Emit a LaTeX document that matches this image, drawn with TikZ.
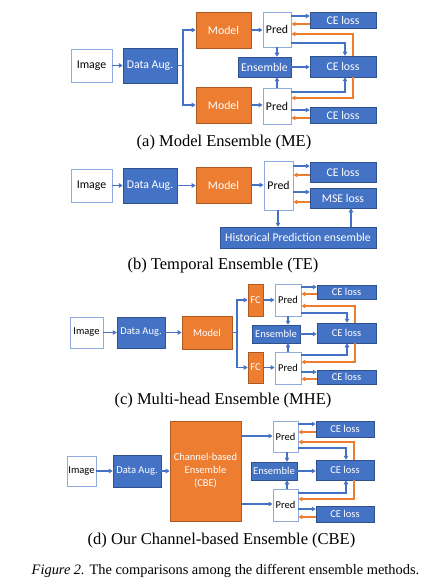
\documentclass[tikz,border=0pt]{standalone}
\usepackage{fontspec}
\setmainfont{Liberation Serif}
\newfontfamily\boxfont{Carlito}
\usetikzlibrary{arrows.meta}
\definecolor{obblue}{HTML}{4472C4}
\definecolor{obdark}{HTML}{2F528F}
\definecolor{oborder}{HTML}{8FAADC}
\definecolor{oorange}{HTML}{ED7D31}
\definecolor{odark}{HTML}{AE5A21}
\newcommand\bx[7]{\node[#2,minimum width={(#5-#3)*1pt},minimum height={(#6-#4)*1pt}] (#1) at ({(#3+#5)/2},{(#4+#6)/2}) {#7};}
\newcommand\pairarr[4]{%
  \draw[barr] (#1.east |- 0,#3) -- (#2.west |- 0,#3);
  \draw[oarr] (#2.west |- 0,#4) -- (#1.east |- 0,#4);}
\newcommand\loopup[6]{%
  \draw[barr] (#1.east |- 0,#3) -| (#2.north -| #4,0);
  \draw[oarr] (#2.north -| #5,0) |- (#1.east |- 0,#6);}
\newcommand\loopdown[6]{%
  \draw[barr] (#1.east |- 0,#3) -| (#2.south -| #4,0);
  \draw[oarr] (#2.south -| #5,0) |- (#1.east |- 0,#6);}
\begin{document}
\begin{tikzpicture}[x=1pt,y=-1pt,
  big/.style={font=\boxfont\fontsize{11.8}{13}\selectfont},
  small/.style={font=\boxfont\fontsize{10.5}{13}\selectfont},
  bbox/.style={fill=obblue,draw=obdark,line width=0.5pt,text=white,inner sep=0pt},
  wbox/.style={fill=white,draw=oborder,line width=0.9pt,text=black,inner sep=0pt},
  obox/.style={fill=oorange,draw=odark,line width=0.7pt,text=white,inner sep=0pt},
  bline/.style={draw=obblue,line width=1.2pt},
  barr/.style={bline,-{Triangle[length=4pt,width=4.5pt]}},
  oarr/.style={draw=oorange,line width=1.2pt,-{Triangle[length=4pt,width=4.5pt]}},
  capt/.style={font=\fontsize{16.5}{18}\selectfont,inner sep=0pt}
]
\useasboundingbox (0,0) rectangle (427,585);
\fill[white] (0,0) rectangle (427,585);

% ---------------- (a) ----------------
\begin{scope}[big]
\bx{imgA}{wbox}{71}{49}{112}{82}{Image}
\bx{augA}{bbox}{123}{48}{177}{83}{Data Aug.}
\bx{modA1}{obox}{196}{12}{251}{48}{Model}
\bx{modA2}{obox}{196}{87}{251}{123}{Model}
\bx{predA1}{wbox}{263}{12}{291}{47}{Pred}
\bx{predA2}{wbox}{263}{88}{291}{124}{Pred}
\bx{ensA}{bbox}{238}{57}{291}{77}{Ensemble}
\bx{ceA1}{bbox}{310}{12}{376}{28}{CE loss}
\bx{ceA2}{bbox}{310}{56}{376}{77}{CE loss}
\bx{ceA3}{bbox}{310}{107}{376}{123}{CE loss}
\end{scope}
\coordinate (brA) at (183,65.5);
\draw[barr] (imgA.east |- augA.east) -- (augA.west);
\draw[bline] (augA.east) -- (brA);
\draw[barr] (brA) |- (modA1.west);
\draw[barr] (brA) |- (modA2.west);
\draw[barr] (modA1.east) -- (predA1.west |- modA1.east);
\draw[barr] (modA2.east) -- (predA2.west |- modA2.east);
\pairarr{predA1}{ceA1}{16}{24}
\pairarr{predA2}{ceA3}{110}{118}
\loopup{predA1}{ceA2}{43}{345}{353}{34}
\loopdown{predA2}{ceA2}{92}{345}{353}{98}
\draw[barr] (predA1.south -| 277,0) -- (ensA.north -| 277,0);
\draw[barr] (predA2.north -| 277,0) -- (ensA.south -| 277,0);
\draw[barr] (ensA.east) -- (ceA2.west |- ensA.east);
\node[capt] (capA) at (224,143) {(a) Model Ensemble (ME)};

% ---------------- (b) ----------------
\begin{scope}[big]
\bx{imgB}{wbox}{71}{169}{112}{202}{Image}
\bx{augB}{bbox}{123}{168}{177}{203}{Data Aug.}
\bx{modB}{obox}{196}{167}{251}{203}{Model}
\bx{predB}{wbox}{264}{161}{293}{210}{Pred}
\bx{ceB}{bbox}{310}{162}{376}{182}{CE loss}
\bx{mseB}{bbox}{310}{188}{376}{208}{MSE loss}
\bx{histB}{bbox}{220}{227}{376}{248}{Historical Prediction ensemble}
\end{scope}
\draw[barr] (imgB.east |- augB.east) -- (augB.west);
\draw[barr] (augB.east) -- (modB.west |- augB.east);
\draw[barr] (modB.east) -- (predB.west |- modB.east);
\pairarr{predB}{ceB}{166}{175}
\pairarr{predB}{mseB}{192}{202}
\draw[barr] (predB.south -| 278,0) -- (histB.north -| 278,0);
\draw[barr] (histB.north -| 351,0) -- (mseB.south -| 351,0);
\node[capt] (capB) at (223,265.5) {(b) Temporal Ensemble (TE)};

% ---------------- (c) ----------------
\begin{scope}[small]
\bx{imgC}{wbox}{70}{317}{103}{348}{Image}
\bx{augC}{bbox}{117}{317}{165}{348}{Data Aug.}
\bx{modC}{obox}{182}{316}{232}{349}{Model}
\bx{fcC1}{obox}{248}{284}{263}{316}{FC}
\bx{fcC2}{obox}{248}{352}{263}{383}{FC}
\bx{predC1}{wbox}{275}{284}{301}{316}{Pred}
\bx{predC2}{wbox}{275}{352}{301}{384}{Pred}
\bx{ensC}{bbox}{252}{325}{300}{343}{Ensemble}
\bx{ceC1}{bbox}{317}{285}{376}{299}{CE loss}
\bx{ceC2}{bbox}{317}{323}{376}{343}{CE loss}
\bx{ceC3}{bbox}{317}{370}{376}{384}{CE loss}
\end{scope}
\coordinate (brC) at (237,332.5);
\draw[barr] (imgC.east |- augC.east) -- (augC.west);
\draw[barr] (augC.east) -- (modC.west |- augC.east);
\draw[bline] (modC.east) -- (brC);
\draw[barr] (brC) |- (fcC1.west);
\draw[barr] (brC) |- (fcC2.west);
\draw[barr] (fcC1.east) -- (predC1.west |- fcC1.east);
\draw[barr] (fcC2.east) -- (predC2.west |- fcC2.east);
\pairarr{predC1}{ceC1}{287}{294}
\pairarr{predC2}{ceC3}{372}{379}
\loopup{predC1}{ceC2}{313}{347}{355}{306}
\loopdown{predC2}{ceC2}{355}{347}{355}{362}
\draw[barr] (predC1.south -| 288,0) -- (ensC.north -| 288,0);
\draw[barr] (predC2.north -| 288,0) -- (ensC.south -| 288,0);
\draw[barr] (ensC.east) -- (ceC2.west |- ensC.east);
\node[capt] (capC) at (223,401) {(c) Multi-head Ensemble (MHE)};

% ---------------- (d) ----------------
\begin{scope}[small]
\bx{imgD}{wbox}{67}{456}{96}{486}{Image}
\bx{augD}{bbox}{113}{455}{161}{487}{Data Aug.}
\node[obox,small,align=center,minimum width=71pt,minimum height=100pt,font=\boxfont\fontsize{10.5}{13}\selectfont] (cbeD) at (205.5,471) {Channel-based\\Ensemble\\(CBE)};
\bx{predD1}{wbox}{273}{421}{298}{452}{Pred}
\bx{predD2}{wbox}{273}{489}{298}{521}{Pred}
\bx{ensD}{bbox}{251}{462}{297}{480}{Ensemble}
\bx{ceD1}{bbox}{316}{421}{374}{437}{CE loss}
\bx{ceD2}{bbox}{316}{460}{374}{480}{CE loss}
\bx{ceD3}{bbox}{316}{506}{374}{522}{CE loss}
\end{scope}
\draw[barr] (imgD.east |- augD.east) -- (augD.west);
\draw[barr] (augD.east) -- (cbeD.west |- augD.east);
\draw[barr] (cbeD.east |- 0,436) -- (predD1.west |- 0,436);
\draw[barr] (cbeD.east |- 0,504) -- (predD2.west |- 0,504);
\pairarr{predD1}{ceD1}{424}{432}
\pairarr{predD2}{ceD3}{509}{517}
\loopup{predD1}{ceD2}{448}{346}{354}{442}
\loopdown{predD2}{ceD2}{493}{346}{354}{499}
\draw[barr] (predD1.south -| 287,0) -- (ensD.north -| 287,0);
\draw[barr] (predD2.north -| 287,0) -- (ensD.south -| 287,0);
\draw[barr] (ensD.east) -- (ceD2.west |- ensD.east);
\node[capt] (capD) at (221.5,541) {(d) Our Channel-based Ensemble (CBE)};

\node[font=\fontsize{14.4}{16}\selectfont,inner sep=0pt] (figcap) at (225.5,571) {\textit{Figure 2.} The comparisons among the different ensemble methods.};
\end{tikzpicture}
\end{document}
